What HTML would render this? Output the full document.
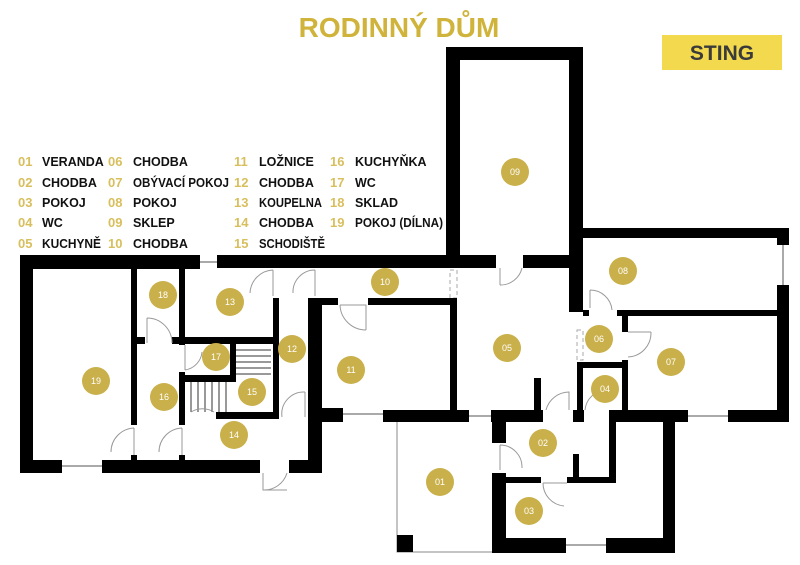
<!DOCTYPE html>
<html><head><meta charset="utf-8"><style>
html,body{margin:0;padding:0;background:#fff;}
svg{display:block;}
.t{font-family:"Liberation Sans","DejaVu Sans",sans-serif;font-weight:bold;}
.n{fill:#d8bf5e;font-size:13px;}
.l{fill:#111;font-size:12.5px;}
.c{fill:#c9b04a;}
.ct{fill:#fff;font-size:9px;text-anchor:middle;dominant-baseline:central;font-family:"Liberation Sans",sans-serif;}
.d{fill:none;stroke:#999;stroke-width:1;}
.w{fill:none;stroke:#aaa;stroke-width:2;}
</style></head><body>
<svg width="800" height="565" viewBox="0 0 800 565" xmlns="http://www.w3.org/2000/svg">
<rect width="800" height="565" fill="#fff"/>
<text class="t" x="399" y="37" text-anchor="middle" font-size="28" fill="#cfb33a">RODINNÝ DŮM</text>
<rect x="662" y="35" width="120" height="35" fill="#f2d94e"/>
<text class="t" x="722" y="60" text-anchor="middle" font-size="21" fill="#3a3a3a">STING</text>

<g class="t">
<text class="n" x="18" y="166">01</text><text class="l" x="42" y="166">VERANDA</text>
<text class="n" x="18" y="187">02</text><text class="l" x="42" y="187">CHODBA</text>
<text class="n" x="18" y="207">03</text><text class="l" x="42" y="207">POKOJ</text>
<text class="n" x="18" y="227">04</text><text class="l" x="42" y="227">WC</text>
<text class="n" x="18" y="248">05</text><text class="l" x="42" y="248" textLength="59" lengthAdjust="spacingAndGlyphs">KUCHYNĚ</text>
<text class="n" x="108" y="166">06</text><text class="l" x="133" y="166">CHODBA</text>
<text class="n" x="108" y="187">07</text><text class="l" x="133" y="187" textLength="96" lengthAdjust="spacingAndGlyphs">OBÝVACÍ POKOJ</text>
<text class="n" x="108" y="207">08</text><text class="l" x="133" y="207">POKOJ</text>
<text class="n" x="108" y="227">09</text><text class="l" x="133" y="227">SKLEP</text>
<text class="n" x="108" y="248">10</text><text class="l" x="133" y="248">CHODBA</text>
<text class="n" x="234" y="166">11</text><text class="l" x="259" y="166">LOŽNICE</text>
<text class="n" x="234" y="187">12</text><text class="l" x="259" y="187">CHODBA</text>
<text class="n" x="234" y="207">13</text><text class="l" x="259" y="207" textLength="63" lengthAdjust="spacingAndGlyphs">KOUPELNA</text>
<text class="n" x="234" y="227">14</text><text class="l" x="259" y="227">CHODBA</text>
<text class="n" x="234" y="248">15</text><text class="l" x="259" y="248" textLength="66" lengthAdjust="spacingAndGlyphs">SCHODIŠTĚ</text>
<text class="n" x="330" y="166">16</text><text class="l" x="355" y="166">KUCHYŇKA</text>
<text class="n" x="330" y="187">17</text><text class="l" x="355" y="187">WC</text>
<text class="n" x="330" y="207">18</text><text class="l" x="355" y="207">SKLAD</text>
<text class="n" x="330" y="227">19</text><text class="l" x="355" y="227" textLength="88" lengthAdjust="spacingAndGlyphs">POKOJ (DÍLNA)</text>
</g>

<g class="w">
<line x1="200" y1="262" x2="217" y2="262"/>
<line x1="62" y1="466" x2="102" y2="466"/>
<line x1="343" y1="414" x2="383" y2="414"/>
<line x1="469" y1="416" x2="491" y2="416"/>
<line x1="688" y1="416" x2="728" y2="416"/>
<line x1="566" y1="545" x2="606" y2="545"/>
<line x1="783" y1="245" x2="783" y2="285"/>
</g>
<g fill="none" stroke="#888" stroke-width="1">
<polyline points="397,422 397,552 492,552"/>
</g>
<g fill="none" stroke="#aaa" stroke-width="1" stroke-dasharray="4,3">
<rect x="450" y="270" width="7" height="28"/>
<rect x="577" y="330" width="6" height="30"/>
</g>

<g fill="#000">
<rect x="20" y="255" width="180" height="14"/>
<rect x="217" y="255" width="279" height="13"/>
<rect x="523" y="255" width="60" height="13"/>
<rect x="446" y="47" width="137" height="13"/>
<rect x="446" y="47" width="14" height="221"/>
<rect x="569" y="47" width="14" height="265"/>
<rect x="569" y="228" width="220" height="10"/>
<rect x="777" y="228" width="12" height="17"/>
<rect x="777" y="285" width="12" height="137"/>
<rect x="20" y="255" width="13" height="218"/>
<rect x="20" y="460" width="42" height="13"/>
<rect x="102" y="460" width="158" height="13"/>
<rect x="289" y="460" width="33" height="13"/>
<rect x="131" y="269" width="6" height="156"/>
<rect x="131" y="455" width="6" height="5"/>
<rect x="179" y="455" width="6" height="5"/>
<rect x="179" y="269" width="6" height="76"/>
<rect x="131" y="337" width="14" height="7"/>
<rect x="172" y="337" width="107" height="7"/>
<rect x="273" y="298" width="6" height="121"/>
<rect x="179" y="372" width="6" height="53"/>
<rect x="185" y="375" width="51" height="7"/>
<rect x="230" y="344" width="6" height="38"/>
<rect x="216" y="412" width="63" height="7"/>
<rect x="308" y="298" width="14" height="175"/>
<rect x="322" y="298" width="16" height="7"/>
<rect x="368" y="298" width="89" height="7"/>
<rect x="450" y="300" width="7" height="110"/>
<rect x="308" y="408" width="35" height="14"/>
<rect x="383" y="410" width="86" height="12"/>
<rect x="491" y="410" width="52" height="12"/>
<rect x="534" y="378" width="7" height="32"/>
<rect x="573" y="410" width="11" height="12"/>
<rect x="577" y="362" width="6" height="60"/>
<rect x="583" y="310" width="6" height="6"/>
<rect x="577" y="362" width="51" height="6"/>
<rect x="617" y="310" width="160" height="6"/>
<rect x="622" y="310" width="6" height="22"/>
<rect x="622" y="360" width="6" height="62"/>
<rect x="609" y="410" width="79" height="12"/>
<rect x="728" y="410" width="61" height="12"/>
<rect x="663" y="410" width="12" height="143"/>
<rect x="492" y="410" width="14" height="33"/>
<rect x="492" y="473" width="14" height="80"/>
<rect x="492" y="538" width="74" height="15"/>
<rect x="606" y="538" width="69" height="15"/>
<rect x="506" y="477" width="35" height="6"/>
<rect x="567" y="477" width="49" height="6"/>
<rect x="609" y="416" width="7" height="67"/>
<rect x="573" y="454" width="6" height="24"/>
<rect x="397" y="535" width="16" height="17"/>
</g>

<g stroke="#333" stroke-width="1">
<line x1="236" y1="350" x2="271" y2="350"/><line x1="236" y1="356" x2="271" y2="356"/>
<line x1="236" y1="362" x2="271" y2="362"/><line x1="236" y1="368" x2="271" y2="368"/>
<line x1="236" y1="374" x2="271" y2="374"/>
<line x1="191" y1="382" x2="191" y2="412"/><line x1="198" y1="382" x2="198" y2="412"/>
<line x1="205" y1="382" x2="205" y2="412"/><line x1="212" y1="382" x2="212" y2="412"/>
<line x1="219" y1="382" x2="219" y2="412"/><line x1="226" y1="382" x2="226" y2="412"/>
</g>

<g class="d">
<path d="M273 270 V296 M273 270 A24 24 0 0 0 250 293"/>
<path d="M315 270 V296 M315 270 A22 22 0 0 0 293 293"/>
<path d="M340 305 H366 V330 M340 305 A26 26 0 0 0 366 330"/>
<path d="M147 343 V318 M147 318 A25 25 0 0 1 172 343"/>
<path d="M185 345 V370 M185 370 A20 20 0 0 0 202 352"/>
<path d="M191 412 A22 22 0 0 1 214 412"/>
<path d="M305 392 V417 M305 392 A22 22 0 0 0 282 417"/>
<path d="M134 428 V455 M134 428 A24 24 0 0 0 111 452"/>
<path d="M182 428 V455 M182 428 A24 24 0 0 0 159 452"/>
<path d="M263 473 V490 H287 M287 473 A24 24 0 0 1 263 490"/>
<path d="M500 268 V285 M500 285 A22 22 0 0 0 522 268"/>
<path d="M590 308 V290 M590 290 A22 22 0 0 1 612 310"/>
<path d="M628 332 H651 M651 332 A24 24 0 0 1 628 357"/>
<path d="M546 410 A24 24 0 0 1 569 392 V410"/>
<path d="M585 410 A22 22 0 0 1 606 390"/>
<path d="M500 445 V470 M500 445 A22 22 0 0 1 522 468"/>
<path d="M543 483 H567 M543 483 A23 23 0 0 0 564 506"/>
</g>

<g>
<circle class="c" cx="515" cy="172" r="14"/><text class="ct" x="515" y="172">09</text>
<circle class="c" cx="623" cy="271" r="14"/><text class="ct" x="623" y="271">08</text>
<circle class="c" cx="671" cy="362" r="14"/><text class="ct" x="671" y="362">07</text>
<circle class="c" cx="599" cy="339" r="14"/><text class="ct" x="599" y="339">06</text>
<circle class="c" cx="507" cy="348" r="14"/><text class="ct" x="507" y="348">05</text>
<circle class="c" cx="605" cy="389" r="14"/><text class="ct" x="605" y="389">04</text>
<circle class="c" cx="543" cy="443" r="14"/><text class="ct" x="543" y="443">02</text>
<circle class="c" cx="440" cy="482" r="14"/><text class="ct" x="440" y="482">01</text>
<circle class="c" cx="529" cy="511" r="14"/><text class="ct" x="529" y="511">03</text>
<circle class="c" cx="385" cy="282" r="14"/><text class="ct" x="385" y="282">10</text>
<circle class="c" cx="351" cy="370" r="14"/><text class="ct" x="351" y="370">11</text>
<circle class="c" cx="292" cy="349" r="14"/><text class="ct" x="292" y="349">12</text>
<circle class="c" cx="230" cy="302" r="14"/><text class="ct" x="230" y="302">13</text>
<circle class="c" cx="163" cy="295" r="14"/><text class="ct" x="163" y="295">18</text>
<circle class="c" cx="216" cy="357" r="14"/><text class="ct" x="216" y="357">17</text>
<circle class="c" cx="252" cy="392" r="14"/><text class="ct" x="252" y="392">15</text>
<circle class="c" cx="164" cy="397" r="14"/><text class="ct" x="164" y="397">16</text>
<circle class="c" cx="96" cy="381" r="14"/><text class="ct" x="96" y="381">19</text>
<circle class="c" cx="234" cy="435" r="14"/><text class="ct" x="234" y="435">14</text>
</g>
</svg>
</body></html>
